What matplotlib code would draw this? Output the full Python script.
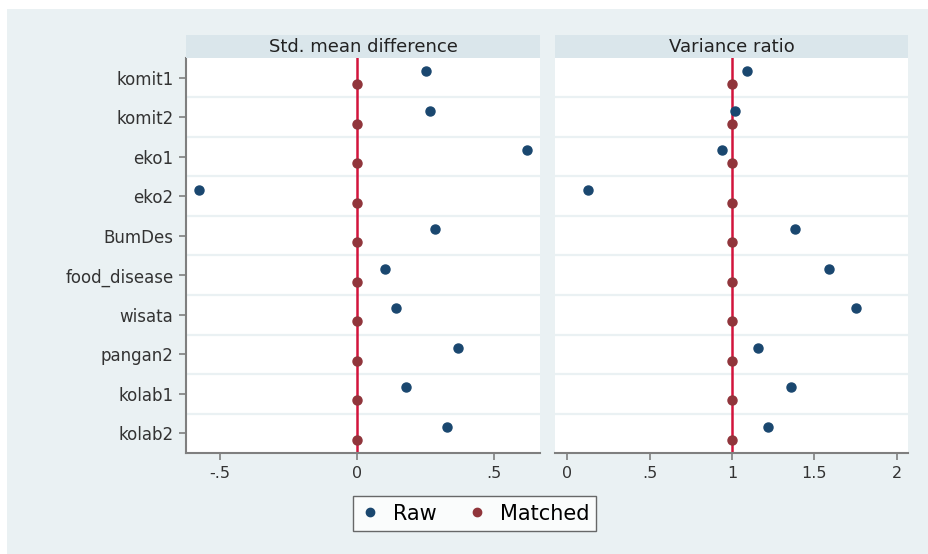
import numpy as np
import matplotlib.pyplot as plt
from matplotlib.patches import Rectangle
from matplotlib.lines import Line2D

plt.rcParams['font.family'] = ['DejaVu Sans']

# data
variables = ['komit1', 'komit2', 'eko1', 'eko2', 'BumDes', 'food_disease',
             'wisata', 'pangan2', 'kolab1', 'kolab2']
smd_raw = [0.252, 0.266, 0.620, -0.577, 0.285, 0.102, 0.142, 0.369, 0.179, 0.328]
smd_matched = [0.0, 0.0, 0.0, 0.0, 0.0, 0.0, 0.0, 0.0, 0.0, 0.0]
vr_raw = [1.09, 1.02, 0.94, 0.13, 1.38, 1.59, 1.75, 1.16, 1.36, 1.22]
vr_matched = [1.0, 1.0, 1.0, 1.0, 1.0, 1.0, 1.0, 1.0, 1.0, 1.0]

panel_titles = ['Std. mean difference', 'Variance ratio']
smd_ticks = [-0.5, 0, 0.5]
smd_ticklabels = ['-.5', '0', '.5']
vr_ticks = [0, 0.5, 1, 1.5, 2]
vr_ticklabels = ['0', '.5', '1', '1.5', '2']

bg = '#eaf1f3'
strip = '#dae6eb'
raw_col = '#1a476f'
match_col = '#90353b'
ref_col = '#d2143c'
axis_col = '#7f7f7f'

W, H = 929, 554
fig = plt.figure(figsize=(W / 100, H / 100), dpi=100, facecolor='white')
fig.patches.append(Rectangle((7 / W, 0), 1 - 7 / W, 1 - 9 / H, transform=fig.transFigure,
                             facecolor=bg, edgecolor='none', zorder=-10))

def px(x0, y0, x1, y1):
    return [x0 / W, 1 - y1 / H, (x1 - x0) / W, (y1 - y0) / H]

ax1 = fig.add_axes(px(186, 58, 540, 453))
ax2 = fig.add_axes(px(555, 58, 908, 453))

pos = np.arange(len(variables))
off = 0.165

panels = [
    (ax1, smd_raw, smd_matched, 0, (-0.624, 0.668), smd_ticks, smd_ticklabels, 186, 540),
    (ax2, vr_raw, vr_matched, 1, (-0.073, 2.067), vr_ticks, vr_ticklabels, 555, 908),
]

for i, (ax, raw, matched, ref, xlim, ticks, labels, x0, x1) in enumerate(panels):
    ax.set_facecolor('white')
    ax.set_xlim(*xlim)
    ax.set_ylim(len(variables) - 0.5, -0.5)
    # row separators
    for k in range(len(variables) - 1):
        ax.axhline(k + 0.5, color=bg, lw=1.6, zorder=1)
    ax.axvline(ref, color=ref_col, lw=1.8, zorder=2)
    ax.plot(raw, pos - off, 'o', color=raw_col, ms=6.5, mec=raw_col, zorder=3, clip_on=False)
    ax.plot(matched, pos + off, 'o', color=match_col, ms=6.5, mec=match_col, zorder=3)
    ax.set_xticks(ticks)
    ax.set_xticklabels(labels)
    for s in ['top', 'right']:
        ax.spines[s].set_visible(False)
    ax.spines['bottom'].set_color(axis_col)
    ax.spines['bottom'].set_linewidth(1.5)
    ax.tick_params(axis='x', colors=axis_col, length=5, width=1.2, labelsize=11.5,
                   labelcolor='#333333', pad=4)
    if i == 0:
        ax.spines['left'].set_color(axis_col)
        ax.spines['left'].set_linewidth(1.5)
        ax.set_yticks(pos)
        ax.set_yticklabels(variables)
        ax.tick_params(axis='y', colors=axis_col, length=5, width=1.2, labelsize=12,
                       labelcolor='#333333', pad=4)
    else:
        ax.spines['left'].set_visible(False)
        ax.set_yticks([])
    # header strip
    fig.patches.append(Rectangle((x0 / W, 1 - 58 / H), (x1 - x0) / W, 23 / H,
                                 transform=fig.transFigure, facecolor=strip,
                                 edgecolor='none', zorder=1))
    fig.text((x0 + x1) / 2 / W, 1 - 46.5 / H, panel_titles[i], ha='center', va='center',
             fontsize=13, color='#222222')

handles = [Line2D([], [], ls='none', marker='o', color=raw_col, ms=6, label='Raw'),
           Line2D([], [], ls='none', marker='o', color=match_col, ms=6, label='Matched')]
leg = fig.legend(handles=handles, loc='center', bbox_to_anchor=(474.5 / W, 1 - 513.5 / H),
                 ncol=2, frameon=True, fancybox=False, fontsize=15, handletextpad=0.6,
                 columnspacing=1.4, handlelength=1.0, borderpad=0.35)
leg.get_frame().set_edgecolor('#444444')
leg.get_frame().set_linewidth(1.0)

fig.savefig('out.png', dpi=100, facecolor='white')
